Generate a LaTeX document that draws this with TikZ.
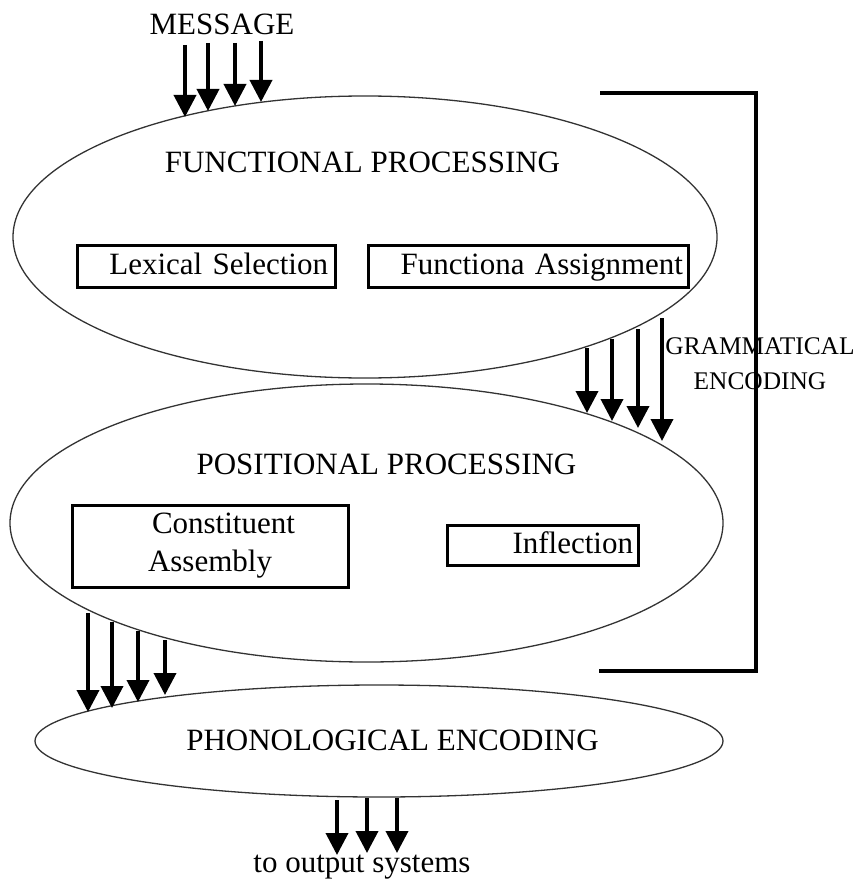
\documentclass[tikz,border=0pt]{standalone}
\usepackage{fontspec}
\setmainfont{Liberation Serif}
\usetikzlibrary{arrows.meta,shapes.geometric}
\tikzset{
	stage/.style={ellipse, draw=black!80, line width=1.3pt, inner sep=0pt},
	procbox/.style={rectangle, draw, line width=3pt, inner ysep=0pt, font=\fontsize{31}{38}\selectfont},
	bigtext/.style={font=\fontsize{31}{38}\selectfont, inner sep=0pt},
	flow/.style={line width=3.8pt, -{Triangle[length=22pt,width=22pt]}},
	bracket/.style={line width=4pt}
}

\begin{document}
\begin{tikzpicture}[x=1pt,y=-1pt]
			%%%%% START %%%%%
			\useasboundingbox (0,0) rectangle (859,880);
			
			\node[stage, minimum width=704pt, minimum height=282pt] (func) at (365,237) {};
			\node[stage, minimum width=713pt, minimum height=278pt] (posit) at (366.5,523) {};
			\node[stage, minimum width=688pt, minimum height=112pt] (phono) at (379,741) {};
			
			\node[bigtext, anchor=base] (msg) at (222,35) {MESSAGE};
			\node[bigtext, anchor=base] (functitle) at (362.5,172) {FUNCTIONAL PROCESSING};
			\node[bigtext, anchor=base] (postitle) at (386.5,474) {POSITIONAL PROCESSING};
			\node[bigtext, anchor=base] (phontitle) at (392.5,750) {PHONOLOGICAL ENCODING};
			\node[bigtext, anchor=base] (output) at (362,872) {to output systems};
			
			\node[procbox, text width=244pt, inner xsep=7pt, align=right, minimum height=42pt, text height=23pt, text depth=6pt] (lexsel) at (206,266) {Lexical Selection};
			\node[procbox, text width=310pt, inner xsep=5pt, align=right, minimum height=42pt, text height=23pt, text depth=6pt] (funcasg) at (528,266) {Functiona Assignment};
			\node[procbox, text width=264pt, inner xsep=6pt, align=left, minimum height=82pt] (constit) at (210,546) {\hspace*{74pt}Constituent\\\hspace*{70pt}Assembly};
			\node[procbox, text width=181pt, inner xsep=5pt, align=right, minimum height=40pt, text height=23pt, text depth=6pt] (inflect) at (542.5,545) {Inflection};
			
			\node[font=\fontsize{25.4}{35}\selectfont, align=center, inner sep=0pt] (gramenc) at (760,363.5) {GRAMMATICAL\\ENCODING};
			
			% bracket round the two processing stages
			\draw[bracket] (600,93) -- (756,93) -- (756,671) -- (599,671);
			
			% message into functional processing
			\coordinate (msg1) at (185,45);
			\coordinate (msg2) at (208,43);
			\coordinate (msg3) at (235,43);
			\coordinate (msg4) at (261,41);
			\coordinate (funin1) at (185,117);
			\coordinate (funin2) at (208,111);
			\coordinate (funin3) at (235,106);
			\coordinate (funin4) at (261,102);
			\draw[flow] (msg1) -- (funin1);
			\draw[flow] (msg2) -- (funin2);
			\draw[flow] (msg3) -- (funin3);
			\draw[flow] (msg4) -- (funin4);
			
			% functional to positional
			\coordinate (funout1) at (587,348);
			\coordinate (funout2) at (612,339);
			\coordinate (funout3) at (638,329);
			\coordinate (funout4) at (662,318);
			\coordinate (posin1) at (587,413);
			\coordinate (posin2) at (612,421);
			\coordinate (posin3) at (638,428);
			\coordinate (posin4) at (662,441);
			\draw[flow] (funout1) -- (posin1);
			\draw[flow] (funout2) -- (posin2);
			\draw[flow] (funout3) -- (posin3);
			\draw[flow] (funout4) -- (posin4);
			
			% positional to phonological
			\coordinate (posout1) at (88,613);
			\coordinate (posout2) at (112,622);
			\coordinate (posout3) at (138,631);
			\coordinate (posout4) at (165,640);
			\coordinate (phonin1) at (88,712);
			\coordinate (phonin2) at (112,708);
			\coordinate (phonin3) at (138,702);
			\coordinate (phonin4) at (165,695);
			\draw[flow] (posout1) -- (phonin1);
			\draw[flow] (posout2) -- (phonin2);
			\draw[flow] (posout3) -- (phonin3);
			\draw[flow] (posout4) -- (phonin4);
			
			% phonological to output
			\coordinate (phonout1) at (337,800);
			\coordinate (phonout2) at (367,798);
			\coordinate (phonout3) at (397,798);
			\coordinate (outin1) at (337,855);
			\coordinate (outin2) at (367,853);
			\coordinate (outin3) at (397,853);
			\draw[flow] (phonout1) -- (outin1);
			\draw[flow] (phonout2) -- (outin2);
			\draw[flow] (phonout3) -- (outin3);
			
			%%%%% END %%%%%
\end{tikzpicture}
\end{document}
